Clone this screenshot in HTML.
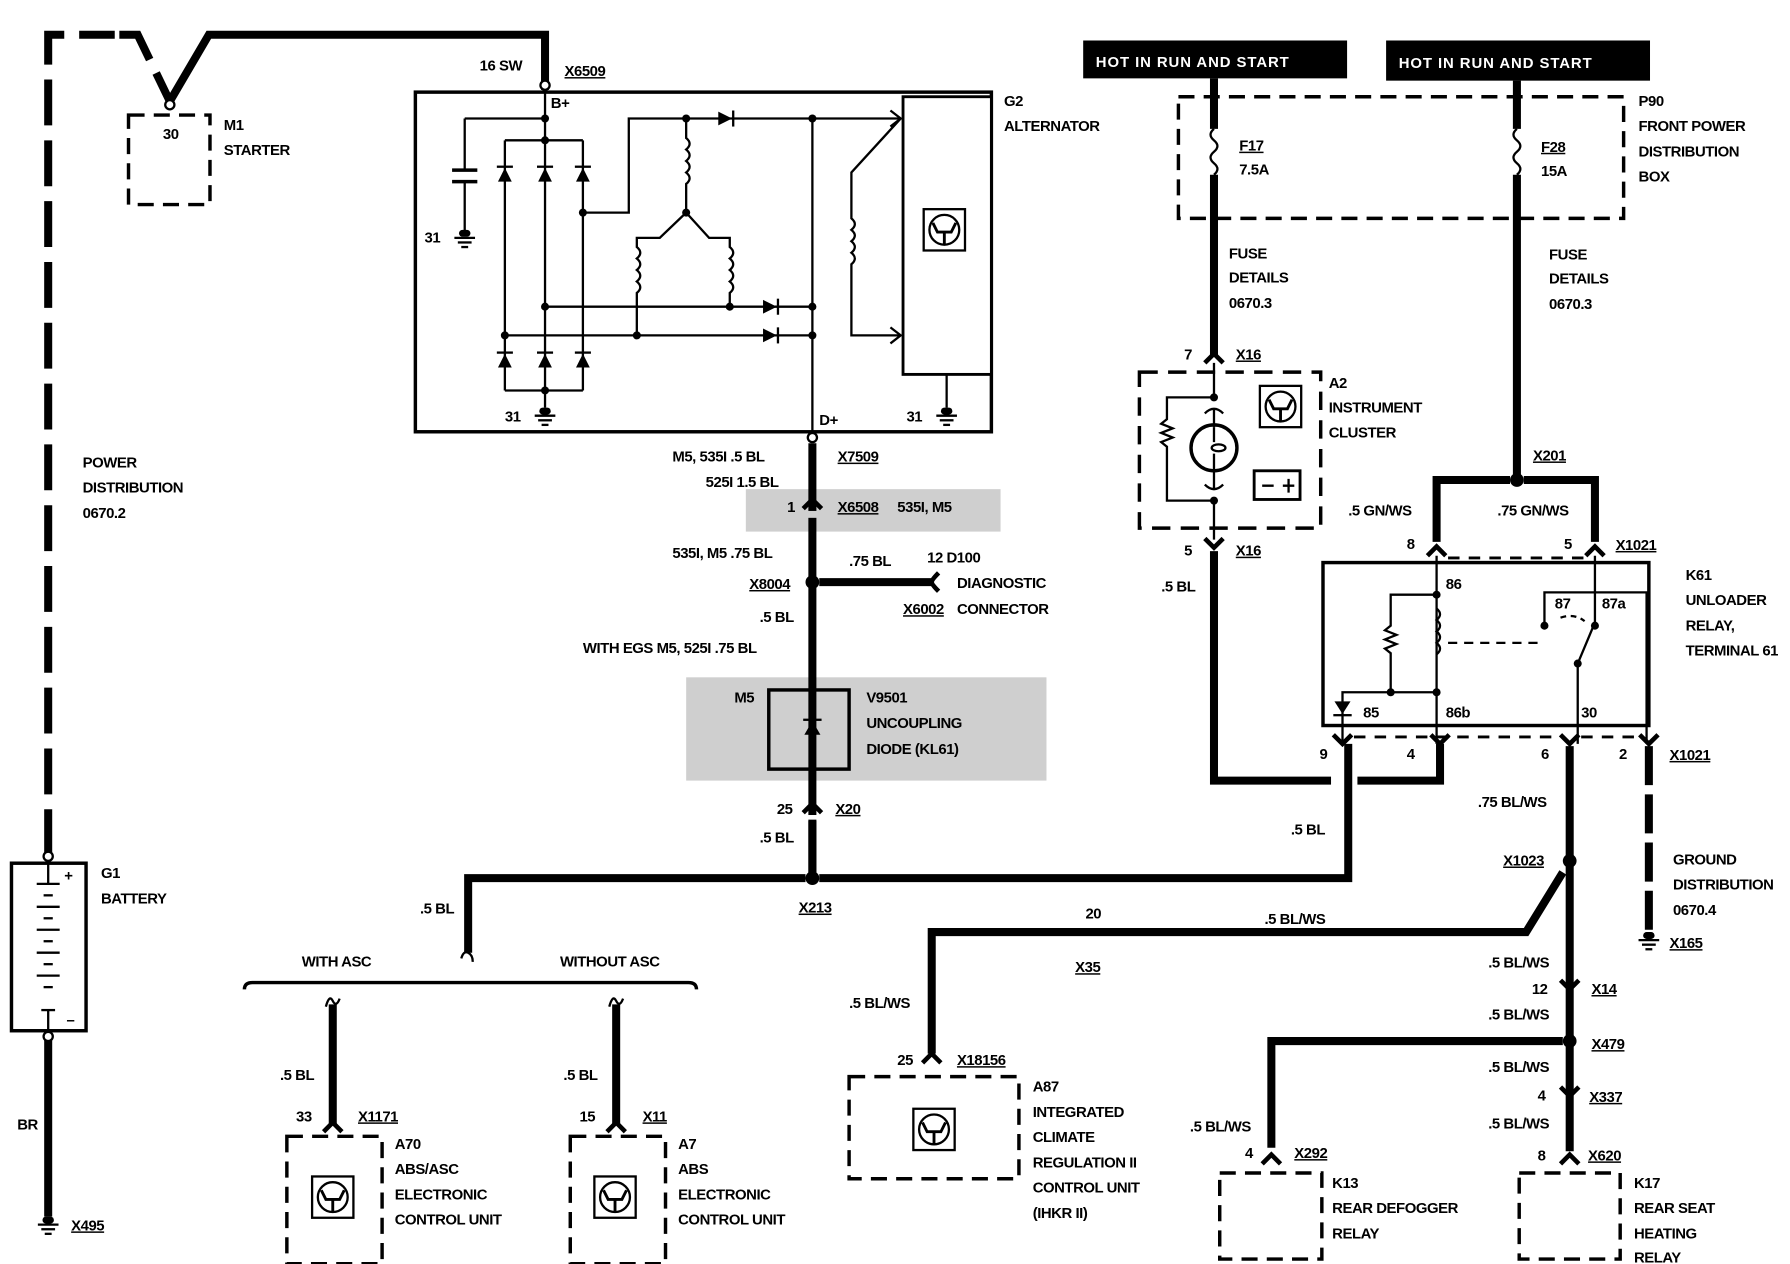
<!DOCTYPE html>
<html><head><meta charset="utf-8"><style>
html,body{margin:0;padding:0;background:#fff;}
svg{display:block;}
text{font-family:"Liberation Sans",sans-serif;font-size:13px;font-weight:bold;fill:#000;letter-spacing:-0.4px;}
</style></head><body>
<svg width="1790" height="1264" viewBox="0 0 1560 1101" xmlns="http://www.w3.org/2000/svg">
<defs>
<g id="ecu"><rect x="0" y="0" width="36" height="36" fill="#fff" stroke="#000" stroke-width="2"/><circle cx="18" cy="18" r="13" fill="none" stroke="#000" stroke-width="2"/><path d="M8 12 L12 20 L24 20 L28 12 M18 20 V31" fill="none" stroke="#000" stroke-width="2.5"/></g>
<g id="gnd"><rect x="-5" y="0" width="10" height="6" rx="3"/><line x1="-9" y1="7" x2="9" y2="7" stroke="#000" stroke-width="2"/><line x1="-6" y1="11" x2="6" y2="11" stroke="#000" stroke-width="2"/><line x1="-3" y1="15" x2="3" y2="15" stroke="#000" stroke-width="2"/></g>
<path id="conU" d="M-8 8 Q-2 2 0 0 Q2 2 8 8" fill="none" stroke="#000" stroke-width="4"/>
<path id="conD" d="M-8 -8 Q-2 -2 0 0 Q2 -2 8 -8" fill="none" stroke="#000" stroke-width="4"/>
</defs>

<!-- shaded regions -->
<rect x="650" y="426" width="222" height="37" fill="#cfcfcf"/>
<rect x="598" y="590" width="314" height="90" fill="#cfcfcf"/>

<!-- left power lines -->
<path d="M42 1060 V898" stroke="#000" stroke-width="7" fill="none"/>
<path d="M42 745 V30 H100" stroke="#000" stroke-width="7" fill="none" stroke-dasharray="40 13"/>
<path d="M104 30 H120 L148 88" stroke="#000" stroke-width="7" fill="none" stroke-dasharray="40 13"/>
<path d="M148 88 L182 30 H475 V78" stroke="#000" stroke-width="7" fill="none"/>
<circle cx="148" cy="91" r="4" fill="#fff" stroke="#000" stroke-width="2"/>
<circle cx="475" cy="74" r="4" fill="#fff" stroke="#000" stroke-width="2"/>
<rect x="112" y="100" width="71" height="78" fill="none" stroke="#000" stroke-width="3" stroke-dasharray="14 8"/>
<text x="142" y="121">30</text><text x="195" y="113">M1</text><text x="195" y="135">STARTER</text>
<text x="72" y="407">POWER</text><text x="72" y="429">DISTRIBUTION</text><text x="72" y="451">0670.2</text>

<!-- battery -->
<rect x="10" y="752" width="65" height="146" fill="#fff" stroke="#000" stroke-width="3"/>
<circle cx="42" cy="746" r="4" fill="#fff" stroke="#000" stroke-width="2"/><circle cx="42" cy="903" r="4" fill="#fff" stroke="#000" stroke-width="2"/>
<g stroke="#000" stroke-width="2"><line x1="42" y1="752" x2="42" y2="770"/><line x1="32" y1="770" x2="52" y2="770"/><line x1="38" y1="780" x2="46" y2="780"/><line x1="32" y1="790" x2="52" y2="790"/><line x1="38" y1="800" x2="46" y2="800"/><line x1="32" y1="810" x2="52" y2="810"/><line x1="38" y1="820" x2="46" y2="820"/><line x1="32" y1="830" x2="52" y2="830"/><line x1="38" y1="840" x2="46" y2="840"/><line x1="32" y1="850" x2="52" y2="850"/><line x1="38" y1="860" x2="46" y2="860"/><line x1="36" y1="880" x2="48" y2="880"/><line x1="42" y1="880" x2="42" y2="898"/></g>
<text x="56" y="767">+</text><text x="58" y="893">–</text>
<text x="88" y="765">G1</text><text x="88" y="787">BATTERY</text>
<text x="15" y="984">BR</text>
<use href="#gnd" x="42" y="1060"/><text x="62" y="1072" text-decoration="underline">X495</text>

<!-- alternator -->
<rect x="362" y="80" width="502" height="296" fill="none" stroke="#000" stroke-width="3"/>
<rect x="787" y="84" width="77" height="242" fill="#fff" stroke="#000" stroke-width="2.5"/>
<use href="#ecu" x="805" y="182"/>
<g stroke="#000" stroke-width="2" fill="none">
<path d="M475 80 V340 M405 103 H475 M405 103 V148 M405 158 V205 M440 122 H508 M440 122 V340 M508 122 V340 M440 340 H508 M475 340 V355"/>
<path d="M394 148 H416 M394 158 H416" stroke-width="3"/>
<path d="M508 185 H548 V103 H785 M475 267 H710 M440 292 H710 M708 103 V376"/>
<path d="M598 103 V120 q6 5 0 10 q6 5 0 10 q6 5 0 10 q6 5 0 10 V185 L575 207 H555 V215 q6 5 0 10 q6 5 0 10 q6 5 0 10 q6 5 0 10 V292 M598 185 L618 207 H636 V215 q6 5 0 10 q6 5 0 10 q6 5 0 10 q6 5 0 10 V267"/>
<path d="M785 103 L742 150 V190 q6 5 0 10 q6 5 0 10 q6 5 0 10 q6 5 0 10 V292 H785"/>
<path d="M825 326 V355"/>
</g>
<g fill="#000">
<path d="M434 158 L446 158 L440 146 Z"/><rect x="433" y="144" width="14" height="2"/>
<path d="M469 158 L481 158 L475 146 Z"/><rect x="468" y="144" width="14" height="2"/>
<path d="M502 158 L514 158 L508 146 Z"/><rect x="501" y="144" width="14" height="2"/>
<path d="M434 320 L446 320 L440 308 Z"/><rect x="433" y="306" width="14" height="2"/>
<path d="M469 320 L481 320 L475 308 Z"/><rect x="468" y="306" width="14" height="2"/>
<path d="M502 320 L514 320 L508 308 Z"/><rect x="501" y="306" width="14" height="2"/>
<path d="M626 97 L626 109 L638 103 Z"/><rect x="638" y="96" width="2" height="14"/>
<path d="M665 261 L665 273 L677 267 Z"/><rect x="677" y="260" width="2" height="14"/>
<path d="M665 286 L665 298 L677 292 Z"/><rect x="677" y="285" width="2" height="14"/>
<circle cx="475" cy="103" r="3.5"/><circle cx="475" cy="122" r="3.5"/><circle cx="508" cy="185" r="3.5"/><circle cx="598" cy="103" r="3.5"/><circle cx="598" cy="185" r="3.5"/><circle cx="708" cy="103" r="3.5"/><circle cx="475" cy="267" r="3.5"/><circle cx="440" cy="292" r="3.5"/><circle cx="555" cy="292" r="3.5"/><circle cx="636" cy="267" r="3.5"/><circle cx="708" cy="267" r="3.5"/><circle cx="708" cy="292" r="3.5"/><circle cx="475" cy="340" r="3.5"/>
</g>
<path d="M776 96 L785 103 L776 110 M776 285 L785 292 L776 299" stroke="#000" stroke-width="2" fill="none"/>
<use href="#gnd" x="405" y="200"/><use href="#gnd" x="475" y="355"/><use href="#gnd" x="825" y="355"/>
<text x="370" y="211">31</text><text x="440" y="367">31</text><text x="790" y="367">31</text>
<text x="418" y="61">16 SW</text><text x="492" y="66" text-decoration="underline">X6509</text><text x="480" y="94">B+</text><text x="714" y="370">D+</text>
<text x="875" y="92">G2</text><text x="875" y="114">ALTERNATOR</text>
<circle cx="708" cy="381" r="4" fill="#fff" stroke="#000" stroke-width="2"/>

<!-- central wire -->
<path d="M708 386 V765" stroke="#000" stroke-width="7" fill="none"/>
<use href="#conU" x="708" y="435"/>
<rect x="703" y="445" width="10" height="6" fill="#cfcfcf"/>
<text x="586" y="402">M5, 535I  .5 BL</text><text x="615" y="424">525I  1.5 BL</text><text x="730" y="402" text-decoration="underline">X7509</text>
<text x="686" y="446">1</text><text x="730" y="446" text-decoration="underline">X6508</text><text x="782" y="446">535I, M5</text>
<text x="586" y="486">535I, M5   .75 BL</text>
<circle cx="708" cy="507" r="6"/><path d="M714 507 H812" stroke="#000" stroke-width="7"/>
<path d="M818 499 Q812 505 812 507 Q812 509 818 515" stroke="#000" stroke-width="4" fill="none"/>
<text x="653" y="513" text-decoration="underline">X8004</text><text x="740" y="493">.75 BL</text>
<text x="808" y="490">12  D100</text><text x="834" y="512">DIAGNOSTIC</text><text x="787" y="535" text-decoration="underline">X6002</text><text x="834" y="535">CONNECTOR</text>
<text x="662" y="542">.5 BL</text><text x="508" y="569">WITH EGS  M5, 525I  .75 BL</text>
<rect x="670" y="601" width="70" height="69" fill="none" stroke="#000" stroke-width="3"/>
<path d="M701 640 L715 640 L708 628 Z"/><rect x="700" y="626" width="16" height="2"/>
<text x="640" y="612">M5</text><text x="755" y="612">V9501</text><text x="755" y="634">UNCOUPLING</text><text x="755" y="657">DIODE (KL61)</text>
<use href="#conU" x="708" y="700"/><rect x="703" y="710" width="10" height="5" fill="#fff"/>
<path d="M708 714 V765" stroke="#000" stroke-width="7"/>
<text x="677" y="709">25</text><text x="728" y="709" text-decoration="underline">X20</text><text x="662" y="734">.5 BL</text>
<circle cx="708" cy="765" r="6"/><text x="696" y="795" text-decoration="underline">X213</text>
<path d="M702 765 H408 V830 M714 765 H1175 V648" stroke="#000" stroke-width="7" fill="none"/>
<path d="M402 835 Q404 828 408 830 Q412 832 412 838" stroke="#000" stroke-width="2" fill="none"/>
<text x="366" y="796">.5 BL</text><text x="1125" y="727">.5 BL</text>

<!-- ASC bracket -->
<path d="M213 862 Q213 856 220 856 H600 Q607 856 607 862" stroke="#000" stroke-width="3" fill="none"/>
<text x="263" y="842">WITH ASC</text><text x="488" y="842">WITHOUT ASC</text>
<path d="M290 875 V980 M537 875 V980" stroke="#000" stroke-width="7"/>
<path d="M284 877 Q287 866 290 872 Q293 878 296 870 M531 877 Q534 866 537 872 Q540 878 543 870" stroke="#000" stroke-width="2" fill="none"/>
<use href="#conU" x="290" y="978"/><use href="#conU" x="537" y="978"/>
<text x="244" y="941">.5 BL</text><text x="491" y="941">.5 BL</text>
<text x="258" y="977">33</text><text x="312" y="977" text-decoration="underline">X1171</text>
<text x="505" y="977">15</text><text x="560" y="977" text-decoration="underline">X11</text>
<rect x="250" y="990" width="83" height="111" fill="none" stroke="#000" stroke-width="3" stroke-dasharray="14 8"/>
<rect x="497" y="990" width="83" height="111" fill="none" stroke="#000" stroke-width="3" stroke-dasharray="14 8"/>
<use href="#ecu" x="272" y="1025"/><use href="#ecu" x="518" y="1025"/>
<text x="344" y="1001">A70</text><text x="344" y="1023">ABS/ASC</text><text x="344" y="1045">ELECTRONIC</text><text x="344" y="1067">CONTROL UNIT</text>
<text x="591" y="1001">A7</text><text x="591" y="1023">ABS</text><text x="591" y="1045">ELECTRONIC</text><text x="591" y="1067">CONTROL UNIT</text>

<!-- right top -->
<rect x="944" y="35" width="230" height="33" fill="#000"/><text x="955" y="58" style="fill:#fff;letter-spacing:0.8px" font-weight="normal">HOT IN RUN AND START</text>
<rect x="1208" y="35" width="230" height="35" fill="#000"/><text x="1219" y="59" style="fill:#fff;letter-spacing:0.8px" font-weight="normal">HOT IN RUN AND START</text>
<rect x="1027" y="84" width="388" height="106" fill="none" stroke="#000" stroke-width="3" stroke-dasharray="14 8"/>
<path d="M1058 68 V112 M1058 152 V310 M1322 70 V112 M1322 152 V418" stroke="#000" stroke-width="7" fill="none"/>
<path d="M1058 112 q-6 5 0 10 q6 5 0 10 q-6 5 0 10 q6 5 0 10 M1322 112 q-6 5 0 10 q6 5 0 10 q-6 5 0 10 q6 5 0 10" stroke="#000" stroke-width="2" fill="none"/>
<text x="1080" y="131" text-decoration="underline">F17</text><text x="1080" y="152">7.5A</text>
<text x="1343" y="132" text-decoration="underline">F28</text><text x="1343" y="153">15A</text>
<text x="1428" y="92">P90</text><text x="1428" y="114">FRONT POWER</text><text x="1428" y="136">DISTRIBUTION</text><text x="1428" y="158">BOX</text>
<text x="1071" y="225">FUSE</text><text x="1071" y="246">DETAILS</text><text x="1071" y="268">0670.3</text>
<text x="1350" y="226">FUSE</text><text x="1350" y="247">DETAILS</text><text x="1350" y="269">0670.3</text>

<!-- A2 cluster -->
<use href="#conU" x="1058" y="308"/><text x="1032" y="313">7</text><text x="1077" y="313" text-decoration="underline">X16</text>
<rect x="993" y="324" width="158" height="136" fill="none" stroke="#000" stroke-width="3" stroke-dasharray="16 9"/>
<g stroke="#000" stroke-width="2" fill="none">
<path d="M1058 316 V346 M1058 356 V372 M1058 408 V426 M1058 436 V470 M1058 346 H1017 V365 l-5 4 l10 4 l-10 4 l10 4 l-10 4 l5 4 V436 H1058"/>
<circle cx="1058" cy="390" r="20" stroke-width="3"/>
<path d="M1050 360 Q1058 352 1066 360 M1050 422 Q1058 430 1066 422"/>
<path d="M1058 372 V385 M1058 395 V408"/><ellipse cx="1062" cy="390" rx="6" ry="3"/>
<rect x="1093" y="410" width="40" height="25" stroke-width="2.5"/><path d="M1100 423 H1110 M1118 423 H1128 M1123 417 V429"/>
</g>
<circle cx="1058" cy="346" r="3.5"/><circle cx="1058" cy="436" r="3.5"/>
<use href="#ecu" x="1098" y="336"/>
<text x="1158" y="338">A2</text><text x="1158" y="359">INSTRUMENT</text><text x="1158" y="381">CLUSTER</text>
<use href="#conD" x="1058" y="477"/><text x="1032" y="484">5</text><text x="1077" y="484" text-decoration="underline">X16</text>
<text x="1012" y="515">.5 BL</text>
<path d="M1058 480 V680 H1160 M1183 680 H1255 V648" stroke="#000" stroke-width="7" fill="none"/>

<!-- K61 relay -->
<circle cx="1322" cy="418" r="6"/><text x="1336" y="401" text-decoration="underline">X201</text>
<path d="M1316 418 H1252 V472 M1328 418 H1390 V472" stroke="#000" stroke-width="7" fill="none"/>
<text x="1175" y="449">.5 GN/WS</text><text x="1305" y="449">.75 GN/WS</text>
<use href="#conU" x="1252" y="476"/><use href="#conU" x="1390" y="476"/>
<path d="M1262 486 H1380" stroke="#000" stroke-width="2.5" stroke-dasharray="10 8"/>
<text x="1226" y="478">8</text><text x="1363" y="478">5</text><text x="1408" y="479" text-decoration="underline">X1021</text>
<rect x="1153" y="490" width="284" height="142" fill="none" stroke="#000" stroke-width="3"/>
<g stroke="#000" stroke-width="2" fill="none">
<path d="M1252 484 V648 M1252 518 H1212 V545 l-5 4 l10 4 l-10 4 l10 4 l-10 4 l5 4 V603 H1252 M1212 603 H1170 V648"/>
<path d="M1252 530 q6 5 0 10 q6 5 0 10 q6 5 0 10 q6 5 0 10"/>
<path d="M1262 560 H1340" stroke-dasharray="8 6"/>
<path d="M1390 484 V545 M1388 547 L1375 578 V648 M1346 544 V516 H1435 V648"/>
<path d="M1360 538 Q1372 534 1381 541" stroke-dasharray="5 4"/>
</g>
<g fill="#000"><circle cx="1252" cy="518" r="3.5"/><circle cx="1212" cy="603" r="3.5"/><circle cx="1252" cy="603" r="3.5"/><circle cx="1346" cy="545" r="3.5"/><circle cx="1390" cy="545" r="3.5"/><circle cx="1375" cy="578" r="3.5"/>
<path d="M1163 611 L1177 611 L1170 622 Z"/><rect x="1162" y="622" width="16" height="2"/></g>
<text x="1260" y="513">86</text><text x="1355" y="530">87</text><text x="1396" y="530">87a</text>
<text x="1188" y="625">85</text><text x="1260" y="625">86b</text><text x="1378" y="625">30</text>
<text x="1469" y="505">K61</text><text x="1469" y="527">UNLOADER</text><text x="1469" y="549">RELAY,</text><text x="1469" y="571">TERMINAL 61</text>
<use href="#conD" x="1170" y="648"/><use href="#conD" x="1255" y="648"/><use href="#conD" x="1368" y="648"/><use href="#conD" x="1437" y="648"/>
<path d="M1180 642 H1360" stroke="#000" stroke-width="2.5" stroke-dasharray="10 8"/><path d="M1378 642 H1428" stroke="#000" stroke-width="2.5" stroke-dasharray="10 8"/>
<text x="1150" y="661">9</text><text x="1226" y="661">4</text><text x="1343" y="661">6</text><text x="1411" y="661">2</text><text x="1455" y="662" text-decoration="underline">X1021</text>
<path d="M1437 650 V810" stroke="#000" stroke-width="7" stroke-dasharray="34 8"/>
<text x="1458" y="753">GROUND</text><text x="1458" y="775">DISTRIBUTION</text><text x="1458" y="797">0670.4</text>
<use href="#gnd" x="1437" y="812"/><text x="1455" y="826" text-decoration="underline">X165</text>

<!-- lower right wires -->
<path d="M1368 650 V1003" stroke="#000" stroke-width="7"/>
<text x="1288" y="703">.75 BL/WS</text>
<circle cx="1368" cy="750" r="6"/><text x="1310" y="754" text-decoration="underline">X1023</text>
<path d="M1362 760 L1330 812 H812 V918" stroke="#000" stroke-width="7" fill="none"/>
<text x="946" y="800">20</text><text x="1102" y="805">.5 BL/WS</text><text x="937" y="847" text-decoration="underline">X35</text>
<text x="740" y="878">.5 BL/WS</text>
<use href="#conU" x="812" y="918"/><text x="782" y="928">25</text><text x="834" y="928" text-decoration="underline">X18156</text>
<rect x="740" y="938" width="148" height="89" fill="none" stroke="#000" stroke-width="3" stroke-dasharray="14 8"/>
<use href="#ecu" x="796" y="966"/>
<text x="900" y="951">A87</text><text x="900" y="973">INTEGRATED</text><text x="900" y="995">CLIMATE</text><text x="900" y="1017">REGULATION II</text><text x="900" y="1039">CONTROL UNIT</text><text x="900" y="1061">(IHKR II)</text>
<text x="1297" y="843">.5 BL/WS</text>
<use href="#conD" x="1368" y="862"/><text x="1335" y="866">12</text><text x="1387" y="866" text-decoration="underline">X14</text>
<text x="1297" y="888">.5 BL/WS</text>
<circle cx="1368" cy="907" r="6"/><text x="1387" y="914" text-decoration="underline">X479</text>
<path d="M1362 907 H1108 V1000" stroke="#000" stroke-width="7" fill="none"/>
<text x="1297" y="934">.5 BL/WS</text>
<use href="#conD" x="1368" y="955"/><text x="1340" y="959">4</text><text x="1385" y="960" text-decoration="underline">X337</text>
<text x="1297" y="983">.5 BL/WS</text><text x="1037" y="986">.5 BL/WS</text>
<use href="#conU" x="1108" y="1006"/><use href="#conU" x="1368" y="1006"/>
<text x="1085" y="1009">4</text><text x="1128" y="1009" text-decoration="underline">X292</text>
<text x="1340" y="1011">8</text><text x="1384" y="1011" text-decoration="underline">X620</text>
<rect x="1063" y="1022" width="89" height="75" fill="none" stroke="#000" stroke-width="3" stroke-dasharray="14 8"/>
<rect x="1324" y="1022" width="88" height="75" fill="none" stroke="#000" stroke-width="3" stroke-dasharray="14 8"/>
<text x="1161" y="1035">K13</text><text x="1161" y="1057">REAR DEFOGGER</text><text x="1161" y="1079">RELAY</text>
<text x="1424" y="1035">K17</text><text x="1424" y="1057">REAR SEAT</text><text x="1424" y="1079">HEATING</text><text x="1424" y="1100">RELAY</text>
</svg>
</body></html>
